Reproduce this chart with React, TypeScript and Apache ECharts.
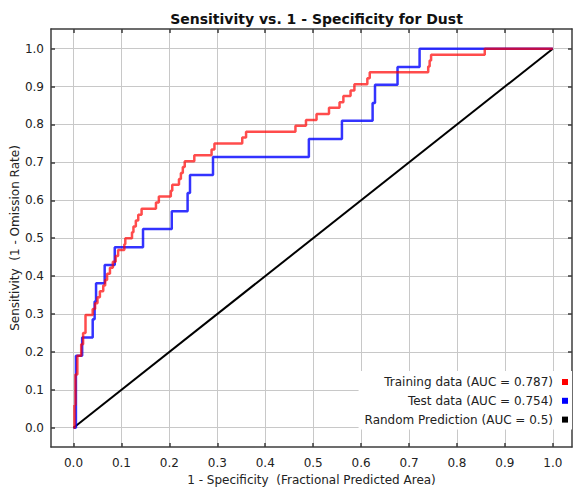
import React, { useEffect, useRef } from "react";
import * as echarts from "echarts";

const FONT = "DejaVu Sans";

const titleText = "Sensitivity vs. 1 - Specificity for Dust";
const xAxisTitle = "1 - Specificity  (Fractional Predicted Area)";
const yAxisTitle = "Sensitivity  (1 - Omission Rate)";

const tickValues = [0, 0.1, 0.2, 0.3, 0.4, 0.5, 0.6, 0.7, 0.8, 0.9, 1.0];

const seriesNames = [
  "Training data (AUC = 0.787)",
  "Test data (AUC = 0.754)",
  "Random Prediction (AUC = 0.5)",
];

// Training ROC: x = 1 - specificity where a step occurs, y = sensitivity after the step
const trainingFpr = [
  0, 0.002, 0.004, 0.008, 0.016, 0.02, 0.025, 0.04, 0.045, 0.05, 0.055, 0.062, 0.066, 0.07,
  0.076, 0.082, 0.088, 0.093, 0.106, 0.108, 0.122, 0.125, 0.13, 0.135, 0.142, 0.172, 0.178,
  0.203, 0.206, 0.22, 0.224, 0.228, 0.232, 0.252, 0.288, 0.294, 0.352, 0.36, 0.463, 0.485,
  0.507, 0.533, 0.555, 0.563, 0.578, 0.586, 0.613, 0.618, 0.74, 0.743, 0.746, 0.858, 1.0,
];
const trainingTpr = [
  0, 0.06, 0.14, 0.19, 0.22, 0.25, 0.297, 0.313, 0.328, 0.344, 0.36, 0.375, 0.39, 0.406,
  0.422, 0.438, 0.453, 0.469, 0.484, 0.5, 0.516, 0.531, 0.547, 0.562, 0.578, 0.594, 0.61,
  0.625, 0.641, 0.656, 0.672, 0.688, 0.703, 0.719, 0.734, 0.75, 0.766, 0.781, 0.797, 0.812,
  0.828, 0.844, 0.859, 0.875, 0.89, 0.906, 0.922, 0.938, 0.953, 0.969, 0.984, 1.0, 1.0,
];

// Test ROC
const testFpr = [
  0, 0.005, 0.018, 0.04, 0.044, 0.047, 0.065, 0.086, 0.145, 0.205, 0.238, 0.243, 0.291,
  0.491, 0.56, 0.624, 0.629, 0.676, 0.722, 1.0,
];
const testTpr = [
  0, 0.19, 0.238, 0.286, 0.333, 0.381, 0.429, 0.476, 0.524, 0.571, 0.619, 0.667, 0.714,
  0.762, 0.81, 0.857, 0.905, 0.952, 1.0, 1.0,
];

const randomFpr = [0, 1];
const randomTpr = [0, 1];

const xRange = [-0.047, 1.04];
const yRange = [-0.051, 1.052];

const zip = (a: number[], b: number[]) => a.map((v, i) => [v, b[i]]);

export default function App() {
  const ref = useRef<HTMLDivElement>(null);
  useEffect(() => {
    if (!ref.current) return;
    const chart = echarts.init(ref.current, null, { renderer: "svg" });
    const frameColor = "#3c3c3c";
    const gridColor = "#c8c8c8";
    const textColor = "#222";
    const baseAxis = {
      type: "value" as const,
      axisLine: { show: true, onZero: false, lineStyle: { color: frameColor, width: 1.5 } },
      axisTick: {
        show: true,
        inside: true,
        length: 4,
        customValues: tickValues,
        lineStyle: { color: frameColor, width: 1.5 },
      },
    };
    chart.setOption({
      animation: false,
      backgroundColor: "#fff",
      textStyle: { fontFamily: FONT },
      title: {
        text: titleText,
        left: 311.5,
        textAlign: "center",
        top: 7,
        textStyle: { fontFamily: FONT, fontSize: 14, fontWeight: "bold", color: "#111" },
      },
      grid: {
        left: 51,
        right: 1,
        top: 29,
        bottom: 41,
        containLabel: false,
        outerBoundsMode: "none",
      },
      legend: {
        orient: "vertical",
        align: "right",
        right: 1,
        top: 371,
        backgroundColor: "#fff",
        padding: [5, 4, 4, 6],
        itemGap: 6.8,
        itemWidth: 6,
        itemHeight: 6,
        icon: "rect",
        textStyle: { fontFamily: FONT, fontSize: 12, color: textColor, padding: [0, 4, 0, 0] },
        data: [
          { name: seriesNames[0], itemStyle: { color: "#ff0000" } },
          { name: seriesNames[1], itemStyle: { color: "#0000ff" } },
          { name: seriesNames[2], itemStyle: { color: "#000000" } },
        ],
      },
      xAxis: [
        {
          ...baseAxis,
          position: "bottom",
          min: xRange[0],
          max: xRange[1],
          name: xAxisTitle,
          nameLocation: "middle",
          nameGap: 27,
          nameMoveOverlap: false,
          nameTextStyle: { fontFamily: FONT, fontSize: 12, color: textColor },
          axisLabel: {
            customValues: tickValues,
            formatter: (v: number) => v.toFixed(1),
            margin: 10,
            fontFamily: FONT,
            fontSize: 12,
            color: textColor,
          },
          splitLine: { show: true, lineStyle: { color: gridColor, width: 1 } },
        },
        {
          ...baseAxis,
          position: "top",
          min: xRange[0],
          max: xRange[1],
          axisLabel: { show: false },
          splitLine: { show: false },
        },
      ],
      yAxis: [
        {
          ...baseAxis,
          position: "left",
          min: yRange[0],
          max: yRange[1],
          name: yAxisTitle,
          nameLocation: "middle",
          nameGap: 30,
          nameMoveOverlap: false,
          nameTextStyle: { fontFamily: FONT, fontSize: 12, color: textColor },
          axisLabel: {
            customValues: tickValues,
            formatter: (v: number) => v.toFixed(1),
            margin: 7,
            fontFamily: FONT,
            fontSize: 12,
            color: textColor,
          },
          splitLine: { show: true, lineStyle: { color: gridColor, width: 1 } },
        },
        {
          ...baseAxis,
          position: "right",
          min: yRange[0],
          max: yRange[1],
          axisLabel: { show: false },
          splitLine: { show: false },
        },
      ],
      series: [
        {
          name: seriesNames[2],
          type: "line",
          data: zip(randomFpr, randomTpr),
          showSymbol: false,
          lineStyle: { color: "#000", width: 2 },
          itemStyle: { color: "#000" },
          z: 2,
        },
        {
          name: seriesNames[1],
          type: "line",
          step: "end",
          data: zip(testFpr, testTpr),
          showSymbol: false,
          lineStyle: { color: "rgba(0,0,255,0.8)", width: 2.5 },
          itemStyle: { color: "#0000ff" },
          z: 3,
        },
        {
          name: seriesNames[0],
          type: "line",
          step: "end",
          data: zip(trainingFpr, trainingTpr),
          showSymbol: false,
          lineStyle: { color: "rgba(255,0,0,0.7)", width: 2.5 },
          itemStyle: { color: "#ff0000" },
          z: 4,
        },
      ],
    });
    return () => chart.dispose();
  }, []);
  return (
    <div
      ref={ref}
      style={{ position: "absolute", left: 0, top: 0, width: 573, height: 488 }}
    />
  );
}
